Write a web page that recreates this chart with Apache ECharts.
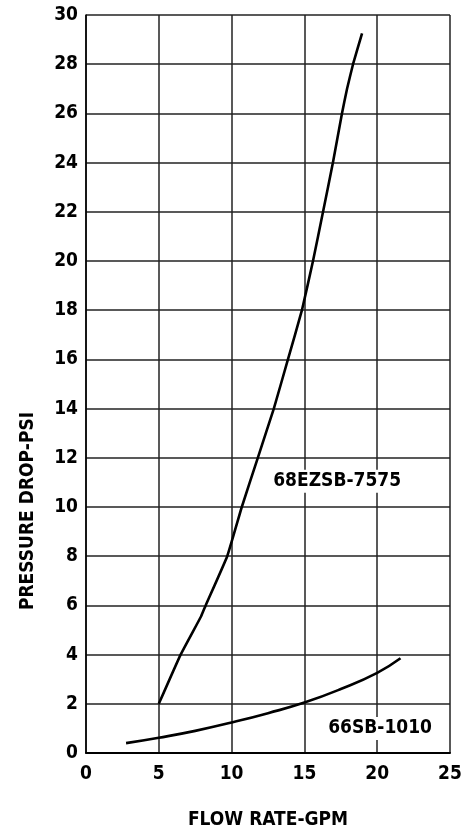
<!DOCTYPE html>
<html>
<head>
<meta charset="utf-8">
<script src="https://cdn.jsdelivr.net/npm/echarts@6/dist/echarts.min.js"></script>
<style>
  html, body { margin: 0; padding: 0; background: #fff; }
  #main { width: 474px; height: 832px; }
</style>
</head>
<body>
<div id="main"></div>
<script>
// data
var xTicks = [0, 5, 10, 15, 20, 25]
var yTicks = [0, 2, 4, 6, 8, 10, 12, 14, 16, 18, 20, 22, 24, 26, 28, 30]

var ezsbFlow = [5, 6.5, 7.9, 8.22, 9.7, 10.7, 11.8, 12.9, 13.87, 14.83, 15.59, 16.28, 16.96, 17.58, 17.93, 18.34, 18.96]
var ezsbDrop = [2, 4, 5.55, 6, 8, 10, 12, 14, 16, 18, 20, 22, 24, 26, 27, 28, 29.25]

var sbFlow = [2.75, 5, 7.5, 10, 12.5, 15, 17.5, 20, 21.6]
var sbDrop = [0.4, 0.62, 0.9, 1.24, 1.62, 2.05, 2.6, 3.26, 3.85]

var curveNames = ['68EZSB-7575', '66SB-1010']
var labelAt = [[17.25, 11.05], [20.2, 1.0]]

var font = "'Liberation Sans Narrow', 'DejaVu Sans Condensed', Arial, sans-serif"

function pairs(xs, ys) {
  return xs.map(function (x, i) { return [x, ys[i]] })
}

// label sitting on the curve, white box hides the grid under it
function curveLabel(text, coord) {
  return {
    symbol: 'rect',
    symbolSize: [1, 1],
    itemStyle: { color: 'transparent' },
    data: [{ coord: coord }],
    label: {
      show: true,
      position: 'inside',
      formatter: text,
      fontFamily: font,
      fontWeight: 'bold',
      fontSize: 19,
      color: '#000',
      backgroundColor: '#fff',
      padding: [2, 2]
    }
  }
}

var chart = echarts.init(document.getElementById('main'))

var option = {
  animation: false,
  grid: {
    left: 86,
    right: 24,
    top: 15,
    bottom: 79,
    containLabel: false,
    outerBoundsMode: 'none'
  },
  xAxis: {
    type: 'value',
    min: xTicks[0],
    max: xTicks[xTicks.length - 1],
    interval: 5,
    name: 'FLOW RATE-GPM',
    nameLocation: 'middle',
    nameGap: 58,
    nameTextStyle: { fontFamily: font, fontWeight: 'bold', fontSize: 19, color: '#000' },
    axisLine: { lineStyle: { color: '#000', width: 2 } },
    axisTick: { show: false },
    axisLabel: { fontFamily: font, fontWeight: 'bold', fontSize: 19, color: '#000', margin: 12 },
    splitLine: { lineStyle: { color: '#222', width: 1.5 } }
  },
  yAxis: {
    type: 'value',
    min: yTicks[0],
    max: yTicks[yTicks.length - 1],
    interval: 2,
    axisLine: { show: true, lineStyle: { color: '#000', width: 1.5 } },
    axisTick: { show: false },
    axisLabel: { fontFamily: font, fontWeight: 'bold', fontSize: 19, color: '#000', margin: 8 },
    splitLine: { lineStyle: { color: '#222', width: 1.5 } }
  },
  graphic: [
    {
      type: 'text',
      x: 28,
      y: 511,
      rotation: Math.PI / 2,
      style: {
        text: 'PRESSURE DROP-PSI',
        font: 'bold 19px ' + font,
        fill: '#000',
        textAlign: 'center',
        textVerticalAlign: 'middle'
      }
    }
  ],
  series: [
    {
      name: curveNames[0],
      type: 'line',
      data: pairs(ezsbFlow, ezsbDrop),
      showSymbol: false,
      smooth: 0.1,
      lineStyle: { color: '#000', width: 2.6 },
      z: 3,
      markPoint: curveLabel(curveNames[0], labelAt[0])
    },
    {
      name: curveNames[1],
      type: 'line',
      data: pairs(sbFlow, sbDrop),
      showSymbol: false,
      smooth: true,
      lineStyle: { color: '#000', width: 2.6 },
      z: 3,
      markPoint: curveLabel(curveNames[1], labelAt[1])
    }
  ]
}

chart.setOption(option)
</script>
</body>
</html>
